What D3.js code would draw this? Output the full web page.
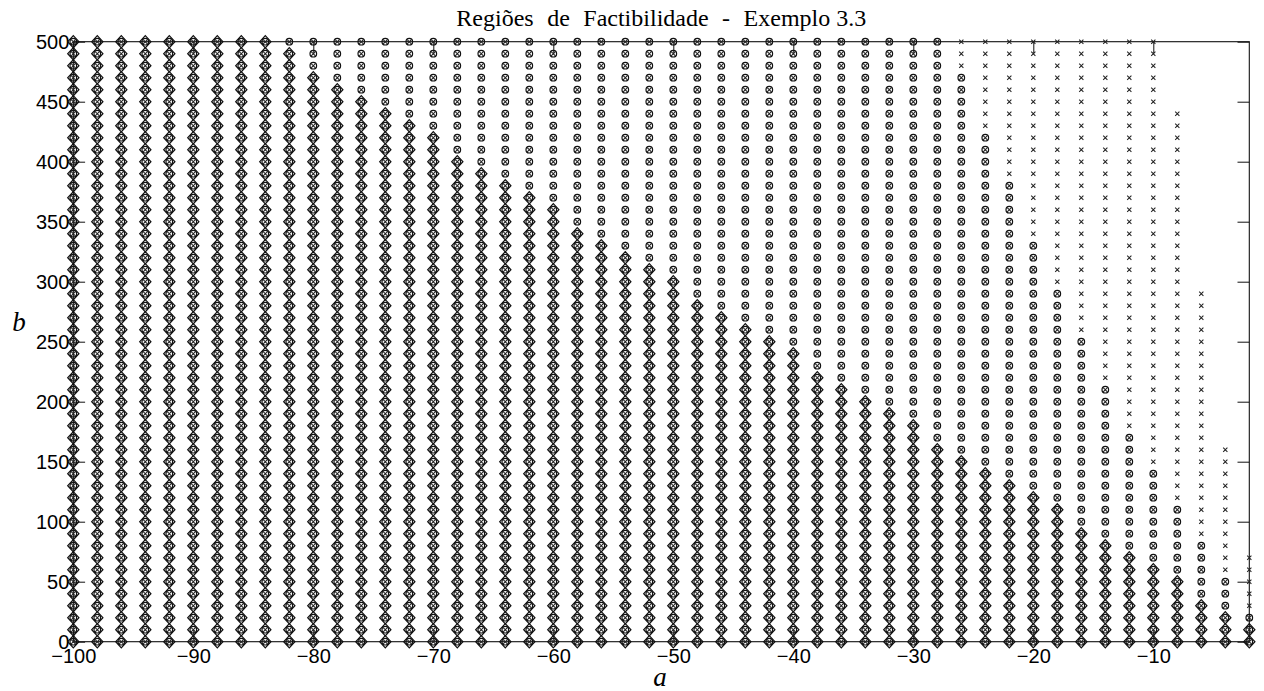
<!DOCTYPE html>
<html>
<head>
<meta charset="utf-8">
<script src="https://cdn.jsdelivr.net/npm/d3@7/dist/d3.min.js"></script>
<style>
  html, body { margin: 0; padding: 0; background: #fff; }
  svg { display: block; }
</style>
</head>
<body>
<script>
// Grid of (a, b) pairs that were tested
const aGrid = [-100, -98, -96, -94, -92, -90, -88, -86, -84, -82,
               -80, -78, -76, -74, -72, -70, -68, -66, -64, -62,
               -60, -58, -56, -54, -52, -50, -48, -46, -44, -42,
               -40, -38, -36, -34, -32, -30, -28, -26, -24, -22,
               -20, -18, -16, -14, -12, -10, -8, -6, -4, -2];
const bGrid = [0, 10, 20, 30, 40, 50, 60, 70, 80, 90,
               100, 110, 120, 130, 140, 150, 160, 170, 180, 190,
               200, 210, 220, 230, 240, 250, 260, 270, 280, 290,
               300, 310, 320, 330, 340, 350, 360, 370, 380, 390,
               400, 410, 420, 430, 440, 450, 460, 470, 480, 490, 500];

// Largest feasible b for each a (one entry per aGrid column), per region
const crossTop = [500, 500, 500, 500, 500, 500, 500, 500, 500, 500,
                  500, 500, 500, 500, 500, 500, 500, 500, 500, 500,
                  500, 500, 500, 500, 500, 500, 500, 500, 500, 500,
                  500, 500, 500, 500, 500, 500, 500, 500, 500, 500,
                  500, 500, 500, 500, 500, 500, 440, 290, 160, 70];
const circleTop = [500, 500, 500, 500, 500, 500, 500, 500, 500, 500,
                   500, 500, 500, 500, 500, 500, 500, 500, 500, 500,
                   500, 500, 500, 500, 500, 500, 500, 500, 500, 500,
                   500, 500, 500, 500, 500, 500, 500, 470, 420, 380,
                   330, 290, 250, 210, 170, 140, 110, 80, 50, 20];
const diamondTop = [500, 500, 500, 500, 500, 500, 500, 500, 500, 490,
                    470, 460, 450, 440, 430, 420, 400, 390, 380, 370,
                    360, 340, 330, 320, 310, 300, 280, 270, 260, 250,
                    240, 220, 210, 200, 190, 180, 160, 150, 140, 130,
                    120, 110, 90, 80, 70, 60, 50, 30, 20, 10];

const xTicks = [-100, -90, -80, -70, -60, -50, -40, -30, -20, -10];
const yTicks = [0, 50, 100, 150, 200, 250, 300, 350, 400, 450, 500];

const titleHead = "Regiões de Factibilidade - Exemplo";
const titleTail = " 3.3";

const W = 1264, H = 691;
const plotLeft = 73.3, plotRight = 1249.3, plotTop = 41.7, plotBottom = 641.7;

const x = d3.scaleLinear().domain([-100, -2]).range([plotLeft, plotRight]);
const y = d3.scaleLinear().domain([0, 500]).range([plotBottom, plotTop]);

const svg = d3.select("body").append("svg")
  .attr("width", W).attr("height", H);

function pointsFor(tops) {
  const pts = [];
  aGrid.forEach((a, i) => {
    bGrid.forEach(b => { if (b <= tops[i]) pts.push([a, b]); });
  });
  return pts;
}

const ink = "#111";
const tickLen = 11.8;

// Axes frame and inward ticks on all four sides
const axes = svg.append("g");
const fmt = d => (d < 0 ? "\u2212" + Math.abs(d) : String(d));

const xBottom = d3.axisBottom(x).tickValues(xTicks).tickSizeInner(-tickLen).tickSizeOuter(0).tickFormat(fmt).tickPadding(4);
const xTopAxis = d3.axisTop(x).tickValues(xTicks).tickSizeInner(-tickLen).tickSizeOuter(0).tickFormat("");
const yLeft = d3.axisLeft(y).tickValues(yTicks).tickSizeInner(-tickLen).tickSizeOuter(0).tickFormat(fmt).tickPadding(4);
const yRight = d3.axisRight(y).tickValues(yTicks).tickSizeInner(-tickLen).tickSizeOuter(0).tickFormat("");

function styleAxis(g) {
  g.select(".domain").remove();
  g.selectAll(".tick line").attr("stroke", ink).attr("stroke-width", 1);
  g.selectAll("text")
    .attr("fill", "#000")
    .style("font-family", "'Liberation Sans', Arial, Helvetica, sans-serif")
    .style("font-size", "20px");
}

axes.append("g").attr("transform", `translate(0,${plotBottom})`).call(xBottom).call(styleAxis)
  .selectAll("text").attr("y", 5).attr("dy", "0.8em");
axes.append("g").attr("transform", `translate(0,${plotTop})`).call(xTopAxis).call(styleAxis);
axes.append("g").attr("transform", `translate(${plotLeft},0)`).call(yLeft).call(styleAxis)
  .selectAll("text").attr("x", -4).attr("dy", "0.36em");
axes.append("g").attr("transform", `translate(${plotRight},0)`).call(yRight).call(styleAxis);

axes.append("rect")
  .attr("x", plotLeft).attr("y", plotTop)
  .attr("width", plotRight - plotLeft).attr("height", plotBottom - plotTop)
  .attr("fill", "none").attr("stroke", ink).attr("stroke-width", 1.1);

// Markers: 'x' for the widest region, circles and diamonds for the nested ones
const marks = svg.append("g").attr("fill", "none");

const cs = 2.1;
marks.append("g").attr("stroke", "#222").attr("stroke-width", 1.05)
  .selectAll("path").data(pointsFor(crossTop)).join("path")
  .attr("d", d => {
    const px = x(d[0]), py = y(d[1]);
    return `M${px - cs},${py - cs}L${px + cs},${py + cs}M${px - cs},${py + cs}L${px + cs},${py - cs}`;
  });

marks.append("g").attr("stroke", ink).attr("stroke-width", 1.2)
  .selectAll("circle").data(pointsFor(circleTop)).join("circle")
  .attr("cx", d => x(d[0])).attr("cy", d => y(d[1])).attr("r", 3.3);

const dw = 5.6, dh = 6.1;
marks.append("g").attr("stroke", ink).attr("stroke-width", 1.25)
  .selectAll("path").data(pointsFor(diamondTop)).join("path")
  .attr("d", d => {
    const px = x(d[0]), py = y(d[1]);
    return `M${px},${py - dh}L${px + dw},${py}L${px},${py + dh}L${px - dw},${py}Z`;
  });

// Title (wider gaps between the leading words) and axis labels
const title = svg.append("text")
  .attr("x", (plotLeft + plotRight) / 2).attr("y", 26)
  .attr("text-anchor", "middle")
  .style("font-family", "'Liberation Serif', 'Times New Roman', serif")
  .style("font-size", "24px");
title.append("tspan").style("word-spacing", "7.5px").text(titleHead);
title.append("tspan").style("word-spacing", "0px").text(titleTail);

svg.append("text")
  .attr("x", 660).attr("y", 686)
  .attr("text-anchor", "middle")
  .style("font-family", "'Liberation Serif', 'Times New Roman', serif")
  .style("font-style", "italic")
  .style("font-size", "27px")
  .text("a");

svg.append("text")
  .attr("x", 19).attr("y", 331)
  .attr("text-anchor", "middle")
  .style("font-family", "'Liberation Serif', 'Times New Roman', serif")
  .style("font-style", "italic")
  .style("font-size", "27px")
  .text("b");
</script>
</body>
</html>
